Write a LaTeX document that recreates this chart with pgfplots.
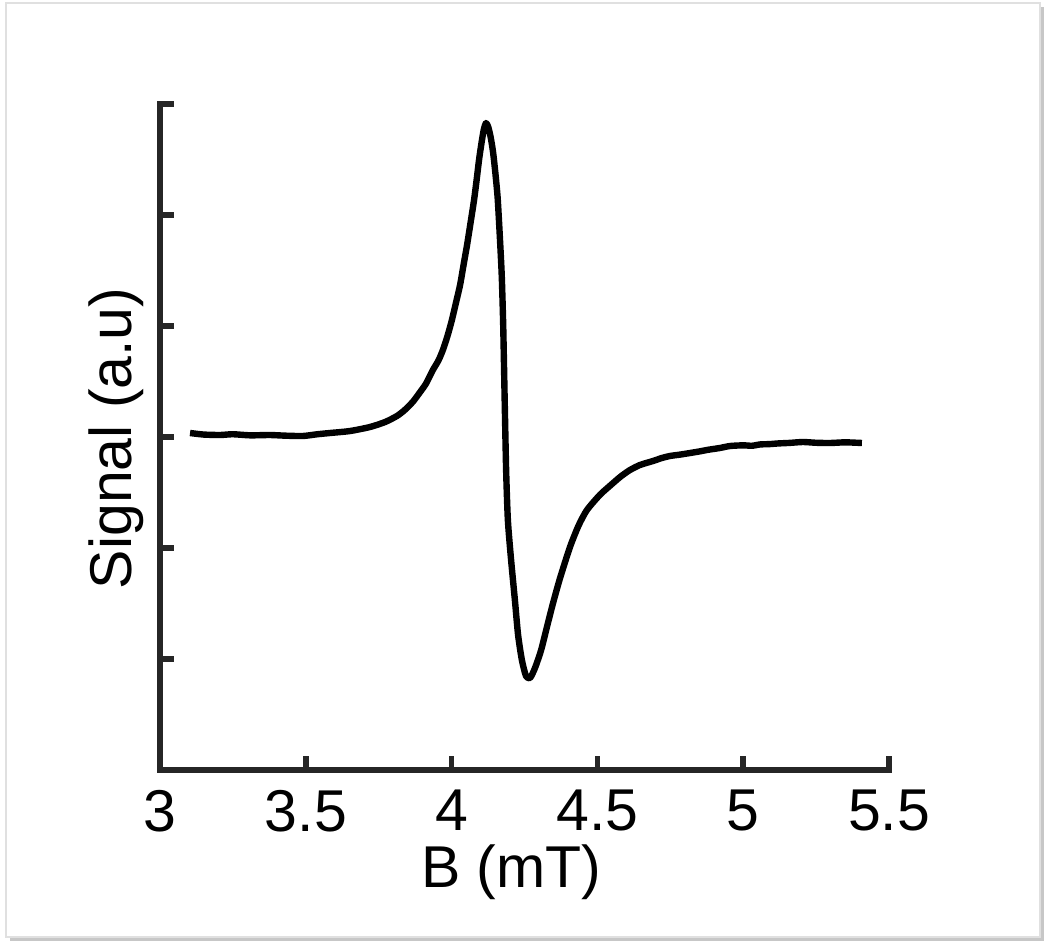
\documentclass[border=0pt]{standalone}
\usepackage{pgfplots}
\pgfplotsset{compat=1.18}
\usepackage{fontspec}
\setmainfont{Liberation Sans}
\definecolor{axgray}{HTML}{262626}
\begin{document}
\begin{tikzpicture}
\path[use as bounding box] (0,0) rectangle (523.5pt,474pt);
\fill[black!22] (5pt,3.5pt) rectangle (522pt,470.5pt);
\filldraw[fill=white,draw=black!12,line width=0.6pt] (3pt,5.5pt) rectangle (520pt,472.5pt);
\begin{axis}[
  at={(80pt,89pt)}, anchor=south west,
  scale only axis, width=364.5pt, height=333pt,
  xmin=3, xmax=5.5, ymin=0, ymax=6,
  axis x line*=bottom, axis y line*=left,
  axis line style={-, line width=2.8pt, color=axgray, line cap=rect},
  tick align=inside,
  major tick length=7pt,
  every tick/.style={line width=2.8pt, color=axgray},
  xtick={3,3.5,4,4.5,5,5.5},
  xticklabels={3,3.5,4,4.5,5,5.5},
  ytick={0,1,2,3,4,5,6},
  yticklabels={},
  tick label style={font=\fontsize{29.5}{34}\selectfont, inner sep=1pt},
  xticklabel style={yshift=-9pt},
  /pgf/number format/assume math mode=true,
  xlabel={B (mT)}, ylabel={Signal (a.u)},
  label style={font=\fontsize{29.5}{34}\selectfont, inner sep=0pt},
  xlabel style={at={(axis description cs:0.482,-0.153)}, anchor=center},
  ylabel style={at={(axis description cs:-0.0600,0.498)}, anchor=center, rotate=0},
  clip=false,
]
\addplot[black, line width=3.2pt, line join=round, smooth, tension=0.4] coordinates {
(3.103,3.036) (3.150,3.022) (3.206,3.018) (3.250,3.025) (3.309,3.015) (3.377,3.018)
(3.430,3.012) (3.490,3.009) (3.540,3.025) (3.583,3.036) (3.652,3.054) (3.720,3.090)
(3.772,3.135) (3.813,3.190) (3.840,3.245) (3.868,3.320) (3.892,3.405) (3.912,3.480)
(3.935,3.600) (3.955,3.690) (3.971,3.790) (3.987,3.920)
(4.001,4.054) (4.015,4.210) (4.029,4.369) (4.041,4.550) (4.053,4.730) (4.065,4.930)
(4.077,5.135) (4.086,5.320) (4.094,5.495) (4.102,5.640) (4.110,5.765)
(4.118,5.829) (4.126,5.790) (4.134,5.700) (4.142,5.570) (4.150,5.380) (4.158,5.150)
(4.166,4.775) (4.172,4.450) (4.177,4.000)
(4.182,3.333) (4.187,2.700) (4.193,2.250) (4.204,1.892) (4.217,1.532) (4.228,1.216) (4.241,0.991)
(4.255,0.847) (4.269,0.829) (4.286,0.919) (4.307,1.081) (4.328,1.300) (4.348,1.505) (4.372,1.730)
(4.406,2.009) (4.435,2.200) (4.464,2.342) (4.509,2.480) (4.545,2.565) (4.578,2.640) (4.610,2.700) (4.646,2.748) (4.691,2.784)
(4.720,2.810) (4.749,2.829) (4.785,2.842) (4.818,2.856) (4.850,2.870) (4.880,2.885) (4.920,2.901) (4.955,2.919) (5.000,2.925)
(5.030,2.921) (5.058,2.933) (5.090,2.936) (5.120,2.942) (5.160,2.947) (5.205,2.955) (5.250,2.948) (5.298,2.946) (5.350,2.952)
(5.407,2.946)
};
\end{axis}
\end{tikzpicture}
\end{document}
